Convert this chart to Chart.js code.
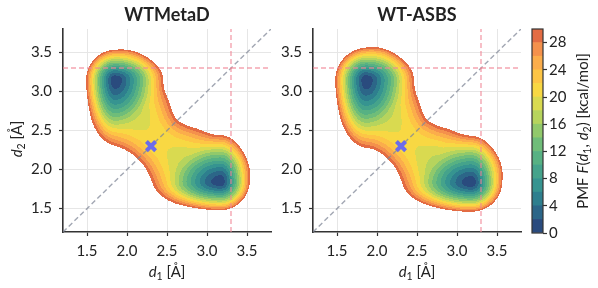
<!DOCTYPE html>
<html>
<head>
<meta charset="utf-8">
<script src="https://cdn.jsdelivr.net/npm/chart.js@4.4.1/dist/chart.umd.min.js"></script>
<style>
  html, body { margin: 0; padding: 0; background: #fff; }
  #fig { position: relative; width: 598px; height: 288px; }
  #fig canvas { position: absolute; left: 0; top: 0; pointer-events: none; }
</style>
</head>
<body>
<div id="fig">
  <canvas id="metad" width="598" height="288"></canvas>
  <canvas id="asbs" width="598" height="288"></canvas>
  <canvas id="cbar" width="598" height="288"></canvas>
</div>
<script>
// panels: 0 = WTMetaD, 1 = WT-ASBS
const panelTitles = ['WTMetaD', 'WT-ASBS']
const axisMin = 1.2
const axisMax = 3.8
const axisTicks = [1.5, 2.0, 2.5, 3.0, 3.5]
const cutD1 = [3.3]
const cutD2 = [3.3]
const tsD1 = [2.3]
const tsD2 = [2.3]

// PMF levels (kcal/mol) and colorbar ticks
const levels = [0, 2, 4, 6, 8, 10, 12, 14, 16, 18, 20, 22, 24, 26, 28, 30]
const cbarTicks = [0, 4, 8, 12, 16, 20, 24, 28]
const levelColors = ['#2a4b7e', '#2c6688', '#2e7f8e', '#369490', '#45a38b', '#57b183', '#6fbd79',
  '#91c96b', '#b6d45d', '#d9da50', '#f8d843', '#fdc545', '#fbad4b', '#f4914c', '#e36c43']

// valley floor path joining both basins (one row per panel)
const valleyD1 = [[1.955, 2.05, 2.38, 2.76, 3.10], [1.955, 2.05, 2.38, 2.76, 3.12]]
const valleyD2 = [[3.10, 2.76, 2.38, 2.05, 1.955], [3.12, 2.76, 2.38, 2.05, 1.945]]
const valleyHalfWidth = [[0.43, 0.48, 0.335, 0.48, 0.43], [0.445, 0.48, 0.335, 0.48, 0.445]]
const valleyFloor = [[12, 18.5, 21, 18.5, 12], [11, 18, 21, 18, 11]]

// basin minima and their reach (W/E along d1, S/N along d2) up to the 30 kcal/mol edge
const wellD1 = [[1.85, 3.17], [1.86, 3.18]]
const wellD2 = [[3.15, 1.84], [3.15, 1.83]]
const wellReachW = [[0.36, 0.82], [0.38, 0.84]]
const wellReachE = [[0.60, 0.36], [0.60, 0.38]]
const wellReachS = [[0.82, 0.36], [0.86, 0.37]]
const wellReachN = [[0.38, 0.60], [0.40, 0.60]]

const CUTOFF = 30
const SOFT = 1.5
const WELL_POWER = 1.4
const VALLEY_POWER = 2.2

function valleyAt(p, x, y) {
  const vx = valleyD1[p], vy = valleyD2[p], hw = valleyHalfWidth[p], fl = valleyFloor[p]
  let s = 0
  for (let i = 0; i < vx.length - 1; i++) {
    const sx = vx[i + 1] - vx[i], sy = vy[i + 1] - vy[i]
    let t = ((x - vx[i]) * sx + (y - vy[i]) * sy) / (sx * sx + sy * sy)
    t = Math.max(0, Math.min(1, t))
    const dx = x - (vx[i] + t * sx), dy = y - (vy[i] + t * sy)
    const w = hw[i] + t * (hw[i + 1] - hw[i])
    const f0 = fl[i] + t * (fl[i + 1] - fl[i])
    const f = f0 + (CUTOFF - f0) * Math.pow(Math.sqrt(dx * dx + dy * dy) / w, VALLEY_POWER)
    s += Math.exp(-f)
  }
  return -Math.log(s)
}

function wellAt(p, i, x, y) {
  const dx = x - wellD1[p][i], dy = y - wellD2[p][i]
  const rx = dx < 0 ? wellReachW[p][i] : wellReachE[p][i]
  const ry = dy < 0 ? wellReachS[p][i] : wellReachN[p][i]
  const r = Math.sqrt((dx / rx) ** 2 + (dy / ry) ** 2)
  return CUTOFF * Math.pow(r, WELL_POWER)
}

function pmfAt(p, x, y) {
  let s = Math.exp(-valleyAt(p, x, y) / SOFT)
  for (let i = 0; i < wellD1[p].length; i++) s += Math.exp(-wellAt(p, i, x, y) / SOFT)
  return Math.max(0, -SOFT * Math.log(s))
}

function hexRgb(h) {
  return [parseInt(h.slice(1, 3), 16), parseInt(h.slice(3, 5), 16), parseInt(h.slice(5, 7), 16)]
}
const levelRgb = levelColors.map(hexRgb)

const contourPlugin = {
  id: 'pmfContour',
  beforeDatasetsDraw(chart, args, opts) {
    const area = chart.chartArea
    const xs = chart.scales.x, ys = chart.scales.y
    const w = Math.round(area.right - area.left), h = Math.round(area.bottom - area.top)
    const off = document.createElement('canvas')
    off.width = w
    off.height = h
    const octx = off.getContext('2d')
    const img = octx.createImageData(w, h)
    for (let j = 0; j < h; j++) {
      const y = ys.getValueForPixel(area.top + j + 0.5)
      for (let i = 0; i < w; i++) {
        const x = xs.getValueForPixel(area.left + i + 0.5)
        const f = pmfAt(opts.panel, x, y)
        if (f >= levels[levels.length - 1]) continue
        let k = 0
        while (k < levelRgb.length - 1 && f >= levels[k + 1]) k++
        const c = levelRgb[k], o = (j * w + i) * 4
        img.data[o] = c[0]; img.data[o + 1] = c[1]; img.data[o + 2] = c[2]; img.data[o + 3] = 255
      }
    }
    octx.putImageData(img, 0, 0)
    chart.ctx.drawImage(off, area.left, area.top)
  }
}

function drawRich(ctx, parts, cx, cy, rot, size) {
  ctx.save()
  ctx.translate(cx, cy)
  ctx.rotate(rot)
  let total = 0
  const items = parts.map(pt => {
    const fs = pt.sub ? size * 0.7 : size
    const font = (pt.italic ? 'italic ' : '') + fs + 'px Lato'
    ctx.font = font
    const w = ctx.measureText(pt.t).width
    total += w
    return { t: pt.t, sub: pt.sub, font: font, w: w }
  })
  let x = -total / 2
  ctx.fillStyle = '#222'
  ctx.textBaseline = 'alphabetic'
  items.forEach(it => {
    ctx.font = it.font
    ctx.fillText(it.t, x, it.sub ? size * 0.22 : 0)
    x += it.w
  })
  ctx.restore()
}

const axisTitlePlugin = {
  id: 'axisTitles',
  afterDraw(chart, args, opts) {
    const a = chart.chartArea
    drawRich(chart.ctx, [{ t: 'd', italic: true }, { t: '1', sub: true }, { t: ' [Å]' }],
      (a.left + a.right) / 2, 277, 0, 15)
    if (opts.yTitle) {
      drawRich(chart.ctx, [{ t: 'd', italic: true }, { t: '2', sub: true }, { t: ' [Å]' }],
        22, 139, -Math.PI / 2, 15)
    }
  }
}

Chart.defaults.font.family = 'Lato'
Chart.defaults.color = '#222'

function panelChart(id, p, padLeft, padRight, yWidth) {
  return new Chart(document.getElementById(id), {
    type: 'scatter',
    data: {
      datasets: [
        { type: 'scatter', data: tsD1.map((v, i) => ({ x: v, y: tsD2[i] })),
          pointStyle: 'crossRot', pointRadius: 6.5, borderWidth: 4,
          borderColor: '#6b6cea', backgroundColor: '#6b6cea' },
        { type: 'line', data: [{ x: cutD1[0], y: axisMin }, { x: cutD1[0], y: axisMax }],
          borderColor: 'rgba(240,134,150,0.75)', borderWidth: 1.4, borderDash: [5, 3], pointRadius: 0 },
        { type: 'line', data: [{ x: axisMin, y: cutD2[0] }, { x: axisMax, y: cutD2[0] }],
          borderColor: 'rgba(240,134,150,0.75)', borderWidth: 1.4, borderDash: [5, 3], pointRadius: 0 },
        { type: 'line', data: [{ x: axisMin, y: axisMin }, { x: axisMax, y: axisMax }],
          borderColor: 'rgba(130,136,152,0.75)', borderWidth: 1.4, borderDash: [5, 3], pointRadius: 0 }
      ]
    },
    options: {
      responsive: false,
      animation: false,
      events: [],
      devicePixelRatio: 1,
      layout: { padding: { left: padLeft, right: padRight, top: 0, bottom: 0 } },
      scales: {
        x: {
          type: 'linear', min: axisMin, max: axisMax,
          afterBuildTicks: s => { s.ticks = axisTicks.map(v => ({ value: v })) },
          afterFit: s => { s.height = 56 },
          grid: { color: '#e6e6e6', lineWidth: 1, tickColor: '#333', tickLength: 4, tickWidth: 1.2 },
          border: { color: '#333', width: 1.6 },
          ticks: { font: { size: 15 }, color: '#222', padding: 6, maxRotation: 0, callback: v => v.toFixed(1) }
        },
        y: {
          type: 'linear', min: axisMin, max: axisMax,
          afterBuildTicks: s => { s.ticks = axisTicks.map(v => ({ value: v })) },
          afterFit: s => { s.width = yWidth },
          grid: { color: '#e6e6e6', lineWidth: 1, tickColor: '#333', tickLength: 4, tickWidth: 1.2 },
          border: { color: '#333', width: 1.6 },
          ticks: { font: { size: 15 }, color: '#222', padding: 7, callback: v => v.toFixed(1) }
        }
      },
      plugins: {
        legend: { display: false },
        tooltip: { enabled: false },
        title: { display: true, text: panelTitles[p], fullSize: false, color: '#222',
          font: { size: 18, weight: 'bold' }, padding: { top: 4, bottom: 3.4 } },
        pmfContour: { panel: p },
        axisTitles: { yTitle: p === 0 }
      }
    },
    plugins: [contourPlugin, axisTitlePlugin]
  })
}

panelChart('metad', 0, 0, 327, 63)
panelChart('asbs', 1, 273, 77, 40)

const cbarFrame = {
  id: 'cbarFrame',
  afterDatasetsDraw(chart) {
    const a = chart.chartArea, ctx = chart.ctx
    ctx.save()
    ctx.strokeStyle = '#333'
    ctx.lineWidth = 1.2
    ctx.strokeRect(a.left, a.top, a.right - a.left, a.bottom - a.top)
    ctx.restore()
  },
  afterDraw(chart) {
    const a = chart.chartArea
    drawRich(chart.ctx, [{ t: 'PMF ' }, { t: 'F', italic: true }, { t: '(' }, { t: 'd', italic: true },
      { t: '1', sub: true }, { t: ', ' }, { t: 'd', italic: true }, { t: '2', sub: true }, { t: ') [kcal/mol]' }],
      588, (a.top + a.bottom) / 2, -Math.PI / 2, 15)
  }
}

new Chart(document.getElementById('cbar'), {
  type: 'bar',
  data: {
    labels: [''],
    datasets: levelColors.map((c, i) => ({
      data: [levels[i + 1] - levels[i]], backgroundColor: c, borderWidth: 0,
      barPercentage: 1, categoryPercentage: 1
    }))
  },
  options: {
    responsive: false,
    animation: false,
    events: [],
    devicePixelRatio: 1,
    layout: { padding: { left: 532, right: 0, top: 29, bottom: 55 } },
    scales: {
      x: { display: false, stacked: true },
      y: {
        stacked: true, position: 'right', min: 0, max: 30,
        afterBuildTicks: s => { s.ticks = cbarTicks.map(v => ({ value: v })) },
        afterFit: s => { s.width = 55 },
        grid: { drawOnChartArea: false, tickColor: '#333', tickLength: 4, tickWidth: 1.2 },
        border: { display: false },
        ticks: { font: { size: 15 }, color: '#222', padding: 2 }
      }
    },
    plugins: { legend: { display: false }, tooltip: { enabled: false } }
  },
  plugins: [cbarFrame]
})
</script>
</body>
</html>
